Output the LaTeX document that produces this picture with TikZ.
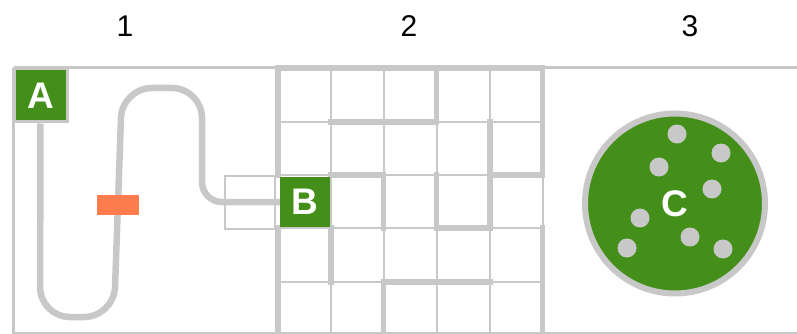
\documentclass[tikz,border=0pt]{standalone}
\usepackage{fontspec}
\setmainfont{Liberation Sans}
\definecolor{wall}{RGB}{200,200,200}
\definecolor{leaf}{RGB}{68,143,26}
\definecolor{coral}{RGB}{255,124,77}
\pgfdeclarelayer{back}
\pgfdeclarelayer{mid}
\pgfsetlayers{back,mid,main}
\begin{document}
\begin{tikzpicture}[x=1pt,y=-1pt,
  thinline/.style={draw=wall,line width=2pt},
  wallline/.style={draw=wall,line width=5.5pt,line cap=rect},
  frameline/.style={draw=wall,line width=3pt},
  tube/.style={draw=wall,line width=6.5pt},
  numlabel/.style={font=\fontsize{30}{30}\selectfont,text=black},
  letterbox/.style={fill=leaf,text=white,inner sep=0pt,minimum size=50pt,font=\bfseries\fontsize{37}{37}\selectfont},
  dot/.style={circle,fill=wall,inner sep=0pt,minimum size=19pt}]
\useasboundingbox (0,0) rectangle (797,334);
% labels
\node[numlabel] (n1) at (125,26) {1};
\node[numlabel] (n2) at (409,26) {2};
\node[numlabel] (n3) at (690,26) {3};
% nodes
\node[letterbox,draw=wall,line width=3pt,minimum size=53pt] (A) at (40.5,95.5) {A};
\node[letterbox] (B) at (305,202) {B};
\begin{pgfonlayer}{back}
% frame
\draw[frameline] (13.5,68) -- (797,68);
\draw[frameline] (13.5,68) -- (13.5,334);
\draw[draw=wall,line width=2pt] (13.5,332.5) -- (797,332.5);
% grid thin lines
\foreach \x in {331,383.5,436.5,490} \draw[thinline] (\x,68) -- (\x,333);
\foreach \y in {122,175,228,282} \draw[thinline] (278,\y) -- (542.5,\y);
\draw[thinline] (542.5,175) -- (542.5,228);
% walls
\draw[wallline] (278,68) -- (542.5,68);
\draw[wallline] (278,68) -- (278,175);
\draw[wallline] (278,228) -- (278,333);
\draw[wallline] (542.5,68) -- (542.5,175);
\draw[wallline] (542.5,228) -- (542.5,333);
\draw[wallline] (436.5,68) -- (436.5,122);
\draw[wallline] (331,122) -- (436.5,122);
\draw[wallline] (490,122) -- (490,175);
\draw[wallline] (490,175) -- (542.5,175);
\draw[wallline] (331,175) -- (383.5,175);
\draw[wallline] (383.5,175) -- (383.5,228);
\draw[wallline] (436.5,175) -- (436.5,228);
\draw[wallline] (490,175) -- (490,228);
\draw[wallline] (436.5,228) -- (490,228);
\draw[wallline] (331,228) -- (331,282);
\draw[wallline] (383.5,282) -- (490,282);
\draw[wallline] (383.5,282) -- (383.5,333);
% entrance box
\draw[draw=wall,line width=2.5pt] (225,176) rectangle (275,229);
\end{pgfonlayer}
\begin{pgfonlayer}{mid}
\draw[tube] (A.south) [rounded corners=30pt] -- (40,317) -- (114,317) -- (122,88) -- (202,88) [rounded corners=20pt] -- (202,202) -- (B.west);
\end{pgfonlayer}
\node[fill=coral,inner sep=0pt,minimum width=42pt,minimum height=20pt] (valve) at (118,205) {};
% circle C
\node[circle,fill=leaf,draw=wall,line width=6pt,minimum size=180pt,inner sep=0pt] (C) at (675,203.5) {};
\foreach \p [count=\i] in {(677,134),(721,153),(659,167),(712,189),(640,218),(690,237),(627,248),(723,249)}
  \node[dot] (d\i) at \p {};
\node[text=white,font=\bfseries\fontsize{37}{37}\selectfont] (Cl) at (C.center) {C};
\end{tikzpicture}
\end{document}
